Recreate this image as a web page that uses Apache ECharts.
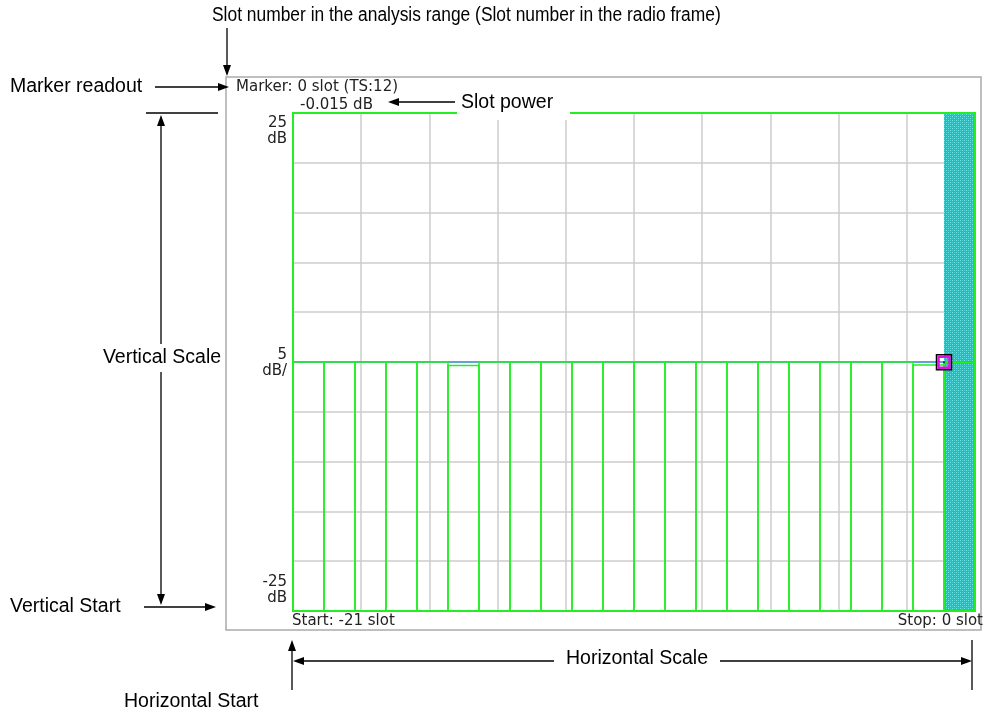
<!DOCTYPE html>
<html>
<head>
<meta charset="utf-8">
<script src="https://cdn.jsdelivr.net/npm/echarts@6/dist/echarts.min.js"></script>
<style>
  html, body { margin: 0; padding: 0; background: #fff; }
  #main { width: 984px; height: 715px; }
</style>
</head>
<body>
<div id="main"></div>
<script>
// slot numbers in the analysis range
var slots = [-21, -20, -19, -18, -17, -16, -15, -14, -13, -12, -11, -10, -9, -8, -7, -6, -5, -4, -3, -2, -1, 0];
// slot power (dB), green bars
var slotPower = [0, 0, 0, 0, 0, -0.35, 0, 0, 0, 0, 0, 0, 0, 0, 0, 0, 0, 0, 0, 0, -0.3, -0.015];
// blue trace on top of the bars
var maxPower = [0, 0, 0, 0, 0, 0, 0, 0, 0, 0, 0, 0, 0, 0, 0, 0, 0, 0, 0, 0, 0, 0];
var markerSlot = 0;
var markerPower = -0.015;
var markerTS = 12;
var yMin = -25, yMax = 25, yDiv = 5;
var yTickLabels = ['25\ndB', '5\ndB/', '-25\ndB'];
var startLabel = 'Start: -21 slot';
var stopLabel = 'Stop: 0 slot';

var myChart = echarts.init(document.getElementById('main'));

var GREEN = '#22ee22';
var GRAY = '#cccccc';
var instFont = '"DejaVu Sans", sans-serif';
var noteFont = '"Liberation Sans", Arial, sans-serif';

// checker pattern for the selected slot
var pat = document.createElement('canvas');
pat.width = 4; pat.height = 4;
var pc = pat.getContext('2d');
pc.fillStyle = '#0ec6c6';
pc.fillRect(0, 0, 4, 4);
pc.fillStyle = '#7ae2e2';
pc.fillRect(0, 0, 1, 1);
pc.fillRect(2, 2, 1, 1);
pc.fillStyle = '#3ad2d2';
pc.fillRect(2, 0, 1, 1);
pc.fillRect(0, 2, 1, 1);

var xMin = slots[0] - 0.5, xMax = slots[slots.length - 1] + 0.5;

function arrow(x1, y1, x2, y2) {
  var dx = x2 - x1, dy = y2 - y1;
  var len = Math.sqrt(dx * dx + dy * dy);
  dx /= len; dy /= len;
  var L = 11, w = 4;
  var bx = x2 - dx * L, by = y2 - dy * L;
  return [
    { type: 'line', z: 100, shape: { x1: x1, y1: y1, x2: bx, y2: by }, style: { stroke: '#000', lineWidth: 1.3 } },
    { type: 'polygon', z: 100, shape: { points: [[x2, y2], [bx - dy * w, by + dx * w], [bx + dy * w, by - dx * w]] }, style: { fill: '#000' } }
  ];
}
function line(x1, y1, x2, y2) {
  return { type: 'line', z: 100, shape: { x1: x1, y1: y1, x2: x2, y2: y2 }, style: { stroke: '#000', lineWidth: 1.3 } };
}
function note(text, x, y, align, pad) {
  return {
    type: 'text', z: 101, x: x, y: y,
    style: {
      text: text, fill: '#000', font: '19.5px ' + noteFont,
      align: align || 'left', verticalAlign: 'middle',
      backgroundColor: pad ? '#fff' : null, padding: pad || 0
    }
  };
}
function inst(text, x, y, align) {
  return {
    type: 'text', z: 101, x: x, y: y,
    style: { text: text, fill: '#222', font: '15px ' + instFont, align: align || 'left', verticalAlign: 'middle', lineHeight: 16 }
  };
}

var graphics = [
  // outer display frame
  { type: 'rect', z: -1, shape: { x: 226, y: 77, width: 755, height: 553 }, style: { fill: 'none', stroke: '#aaa', lineWidth: 1.5 } },
  // white patch behind "Slot power"
  { type: 'rect', z: 99, shape: { x: 457, y: 92, width: 113, height: 28 }, style: { fill: '#fff' } },
  inst('Marker: ' + markerSlot + ' slot (TS:' + markerTS + ')', 236, 87),
  inst(markerPower.toFixed(3) + ' dB', 300, 105),
  inst(yTickLabels[0], 287, 131, 'right'),
  inst(yTickLabels[1], 287, 363, 'right'),
  inst(yTickLabels[2], 287, 590, 'right'),
  inst(startLabel, 292, 621),
  inst(stopLabel, 983, 621, 'right'),
  {
    type: 'text', z: 101, x: 212, y: 15, scaleX: 0.87,
    style: { text: 'Slot number in the analysis range (Slot number in the radio frame)', fill: '#000', font: '20px ' + noteFont, verticalAlign: 'middle' }
  },
  note('Marker readout', 10, 87),
  note('Slot power', 461, 103),
  note('Vertical Scale', 162, 358, 'center', [4, 1]),
  note('Vertical Start', 10, 607),
  note('Horizontal Scale', 637, 659, 'center', [3, 12]),
  note('Horizontal Start', 124, 702),
  line(146, 113, 218, 113),
  line(972, 640, 972, 690)
];
graphics = graphics.concat(
  arrow(227, 28, 227, 76),
  arrow(155, 87, 229, 87),
  arrow(455, 102, 388, 102),
  arrow(161, 360, 161, 115),
  arrow(161, 360, 161, 605),
  arrow(144, 607, 216, 607),
  arrow(630, 661, 293, 661),
  arrow(630, 661, 972, 661),
  arrow(292, 690, 292, 640)
);

var option = {
  animation: false,
  grid: { left: 293, top: 113, width: 682, height: 498 },
  xAxis: [
    { type: 'value', min: xMin, max: xMax, show: false },
    { type: 'value', min: 0, max: 10, interval: 1, position: 'top',
      axisLine: { show: false }, axisTick: { show: false }, axisLabel: { show: false },
      splitLine: { show: true, lineStyle: { color: GRAY, width: 1.5 } } }
  ],
  yAxis: {
    type: 'value', min: yMin, max: yMax, interval: yDiv,
    axisLine: { show: false }, axisTick: { show: false }, axisLabel: { show: false },
    splitLine: { show: true, lineStyle: { color: GRAY, width: 1.5 } }
  },
  graphic: graphics,
  series: [
    {
      // selected slot column
      type: 'custom', z: 2, silent: true,
      data: [[markerSlot]],
      renderItem: function (params, api) {
        var x = api.value(0);
        var p0 = api.coord([x - 0.5, yMax]);
        var p1 = api.coord([x + 0.5, yMin]);
        return { type: 'rect', shape: { x: p0[0], y: p0[1], width: p1[0] - p0[0], height: p1[1] - p0[1] },
          style: { fill: { image: pat, repeat: 'repeat' } } };
      }
    },
    {
      // blue trace
      type: 'custom', z: 3, silent: true,
      data: slots.map(function (s, i) { return [s, maxPower[i]]; }),
      renderItem: function (params, api) {
        var a = api.coord([api.value(0) - 0.5, api.value(1)]);
        var b = api.coord([api.value(0) + 0.5, api.value(1)]);
        return { type: 'line', shape: { x1: a[0], y1: a[1], x2: b[0], y2: b[1] }, style: { stroke: '#3c8fd6', lineWidth: 1.5 } };
      }
    },
    {
      // slot power bars
      type: 'custom', z: 4, silent: true,
      data: slots.map(function (s, i) { return [s, slotPower[i]]; }),
      renderItem: function (params, api) {
        var x = api.value(0), v = api.value(1);
        var p0 = api.coord([x - 0.5, v]);
        var p1 = api.coord([x + 0.5, yMin]);
        return { type: 'rect', shape: { x: p0[0], y: p0[1], width: p1[0] - p0[0], height: p1[1] - p0[1] },
          style: { fill: 'none', stroke: GREEN, lineWidth: 1.5 } };
      }
    },
    {
      // plot frame
      type: 'custom', z: 5, silent: true,
      data: [[xMin, yMax]],
      renderItem: function (params, api) {
        var p0 = api.coord([xMin, yMax]);
        var p1 = api.coord([xMax, yMin]);
        return { type: 'rect', shape: { x: p0[0], y: p0[1], width: p1[0] - p0[0], height: p1[1] - p0[1] },
          style: { fill: 'none', stroke: GREEN, lineWidth: 2 } };
      }
    },
    {
      // marker
      type: 'custom', z: 6, silent: true,
      data: [[markerSlot, markerPower]],
      renderItem: function (params, api) {
        var p = api.coord([api.value(0) - 0.5, api.value(1)]);
        return { type: 'group', children: [
          { type: 'rect', shape: { x: p[0] - 7.5, y: p[1] - 7.5, width: 15, height: 15 }, style: { fill: 'none', stroke: '#000', lineWidth: 1.5 } },
          { type: 'rect', shape: { x: p[0] - 5.5, y: p[1] - 5.5, width: 11, height: 11 }, style: { fill: 'none', stroke: '#e010e0', lineWidth: 2.5 } },
          { type: 'rect', shape: { x: p[0] - 1, y: p[1] - 1, width: 2, height: 2 }, style: { fill: '#333' } }
        ] };
      }
    }
  ]
};

option && myChart.setOption(option);
</script>
</body>
</html>
